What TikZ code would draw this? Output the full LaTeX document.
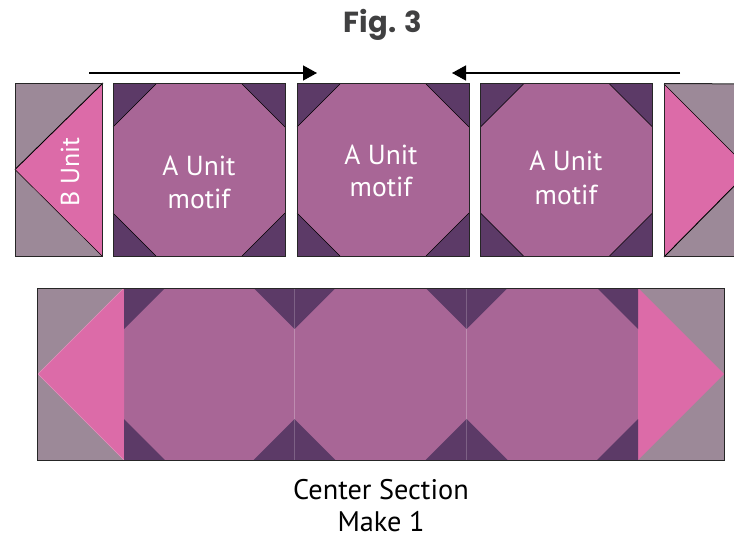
\documentclass[tikz,border=0pt]{standalone}
\usepackage{fontspec}
\setmainfont{PT Sans}
\newfontfamily\figfont{Poppins}
\usetikzlibrary{arrows.meta}
\definecolor{plum}{HTML}{A86696}
\definecolor{darkplum}{HTML}{5C3A67}
\definecolor{pinkb}{HTML}{DC6BA8}
\definecolor{greyb}{HTML}{9C8998}
\definecolor{figink}{HTML}{404041}
\tikzset{
  outl/.style={draw=black!85,line width=1pt},
  seam/.style={draw=black,line width=0.5pt},
  lab/.style={text=white,font=\fontsize{27.5}{31}\selectfont,inner sep=0pt,anchor=center},
  captxt/.style={text=black,font=\fontsize{28.3}{32}\selectfont,inner sep=0pt,anchor=center},
  pusharrow/.style={draw=black,line width=1.4pt,-{Triangle[length=14pt,width=15pt]}},
  lightseam/.style={draw=#1,line width=0.5pt},
  aunit/.pic={
    \fill[plum] (0,0) rectangle (172,172);
    \foreach \a/\b/\c/\d/\e/\f in {0/0/43/0/0/43,172/0/129/0/172/43,0/172/43/172/0/129,172/172/129/172/172/129}{
      \fill[darkplum] (\a,\b) -- (\c,\d) -- (\e,\f) -- cycle;
      \draw[seam] (\c,\d) -- (\e,\f);
    }
    \draw[outl] (0,0) rectangle (172,172);
  }
}
\begin{document}
\begin{tikzpicture}[x=1pt,y=-1pt]
\useasboundingbox (0,0) rectangle (734,535);
\clip (0,0) rectangle (734,535);
\node[text=figink,font=\fontsize{29}{33}\selectfont\figfont\bfseries,inner sep=0pt] (fig) at (383,25) {Fig. 3};
% top row
\coordinate (a1s) at (89,73); \coordinate (a1e) at (317,73);
\coordinate (a2s) at (680,73); \coordinate (a2e) at (452,73);
\draw[pusharrow] (a1s) -- (a1e);
\draw[pusharrow] (a2s) -- (a2e);
% left B unit
\fill[greyb] (15,84) rectangle (102,256);
\fill[pinkb] (102,84) -- (102,256) -- (15,169.5) -- cycle;
\draw[seam,line width=0.9pt] (15,169.5) -- (103,83);
\draw[seam] (15,169.5) -- (102,256);
\draw[outl] (15,84) rectangle (102,256.5);
\node[lab,rotate=90,font=\fontsize{26}{30}\selectfont] (bunit) at (70,172) {B Unit};
% A units
\pic at (113,84) {aunit};
\pic at (297,84) {aunit};
\pic at (480.5,84) {aunit};
\node[lab] (a1a) at (199,166) {A Unit};
\node[lab] (a1b) at (199,199) {motif};
\node[lab] (a2a) at (381,155) {A Unit};
\node[lab] (a2b) at (381,187) {motif};
\node[lab] (a3a) at (566,161) {A Unit};
\node[lab] (a3b) at (566,195) {motif};
% right B unit
\fill[greyb] (664,84) rectangle (760,256);
\fill[pinkb] (664,84) -- (664,256) -- (750,170) -- cycle;
\draw[seam] (664,84) -- (750,170);
\draw[seam,line width=0.9pt] (664,257) -- (750,170);
\draw[outl] (664,83.5) -- (760,84);
\draw[outl] (664,83.5) -- (664,256);
\draw[outl] (664,256) -- (760,256);
% bottom strip
\fill[plum] (37,288) rectangle (724,460);
\fill[greyb] (37,288) rectangle (124,460);
\fill[greyb] (638,288) rectangle (724,460);
\fill[pinkb] (124,288) -- (124,460) -- (38,374) -- cycle;
\fill[pinkb] (638,288) -- (638,460) -- (724,374) -- cycle;
\foreach \x/\dx in {124/41,294.5/-41,294.5/41,466.5/-41,466.5/41,638/-41}{
  \fill[darkplum] (\x,288) -- ({\x+\dx},288) -- (\x,329) -- cycle;
  \fill[darkplum] (\x,460) -- ({\x+\dx},460) -- (\x,419) -- cycle;
}
\draw[lightseam=plum!75!white] (294.5,329) -- (294.5,419);
\draw[lightseam=plum!75!white] (466.5,329) -- (466.5,419);
\draw[lightseam=darkplum!80!white] (294.5,288) -- (294.5,329) (294.5,419) -- (294.5,460);
\draw[lightseam=darkplum!80!white] (466.5,288) -- (466.5,329) (466.5,419) -- (466.5,460);
\draw[lightseam=pinkb!75!white] (124,288) -- (38,374) -- (124,460);
\draw[outl] (37,288) rectangle (724,460);
\node[captxt] (c1) at (381,490) {Center Section};
\node[captxt] (c2) at (381,521.5) {Make 1};
\end{tikzpicture}
\end{document}
